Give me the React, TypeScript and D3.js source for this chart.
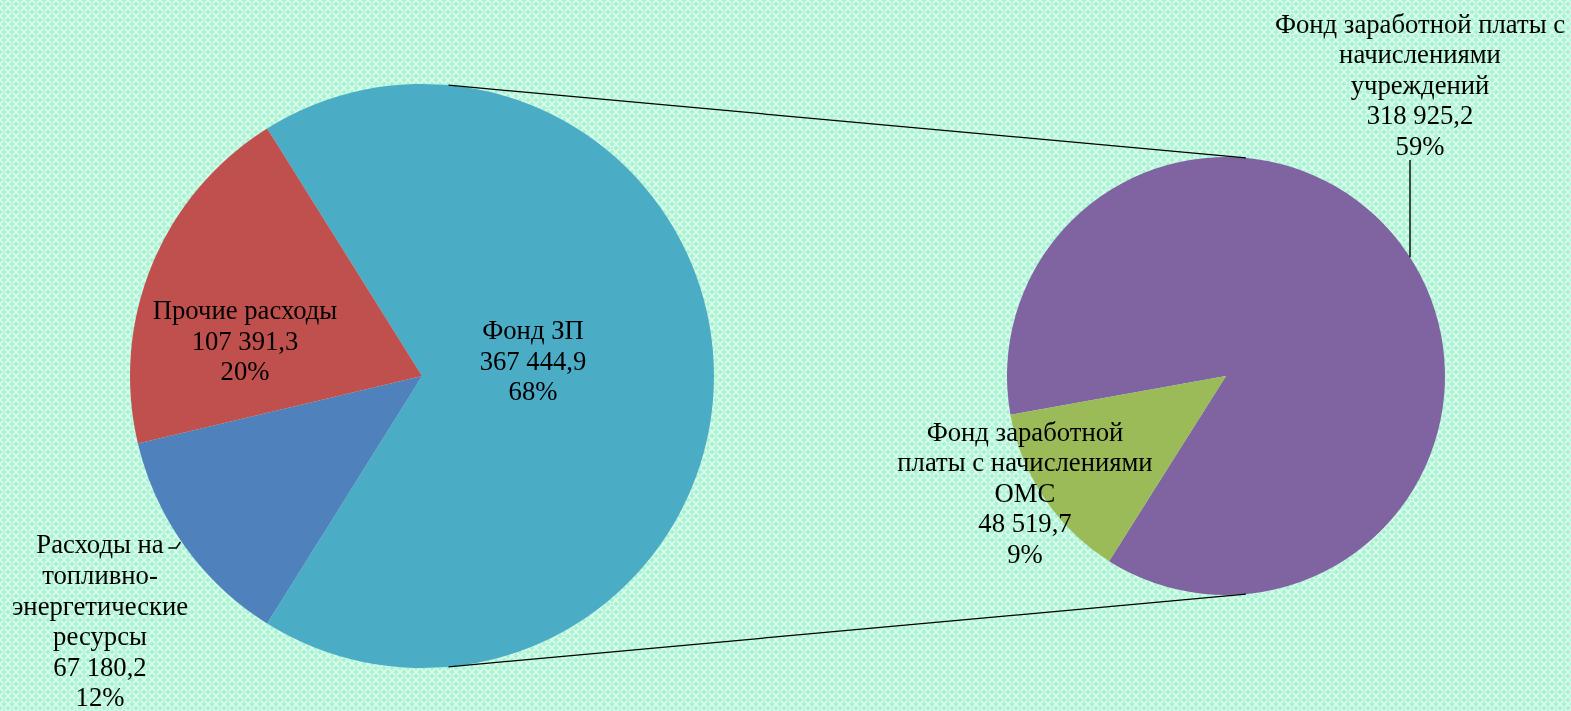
import React from "react";
import * as d3 from "d3";

// ---------- data ----------
const primaryNames = ["Фонд ЗП", "Расходы на топливно-энергетические ресурсы", "Прочие расходы"];
const primaryValues = [367444.9, 67180.2, 107391.3];
const secondaryNames = ["Фонд заработной платы с начислениями учреждений", "Фонд заработной платы с начислениями ОМС"];
const secondaryValues = [318925.2, 48519.7];
const primaryColors = ["#4BACC6", "#4F81BD", "#C0504D"];
const secondaryColors = ["#8064A2", "#9BBB59"];

// label line breaks (text as displayed)
const primaryLabelLines = [["Фонд ЗП"], ["Расходы на", "топливно-", "энергетические", "ресурсы"], ["Прочие расходы"]];
const secondaryLabelLines = [["Фонд заработной платы с", "начислениями", "учреждений"], ["Фонд заработной", "платы с начислениями", "ОМС"]];

// ---------- layout ----------
const W = 1571, H = 711;
const C1 = { x: 422, y: 376, r: 292 };
const C2 = { x: 1226, y: 376, r: 219 };
const secondaryStartDeg = 259.8;
const FONT = 26.7;
const LH = 30.6;
// label block centers (relative to pie centers)
const primaryLabelPos = [{ dx: 111, dy: -15 }, { dx: -322, dy: 245 }, { dx: -177, dy: -35 }];
const secondaryLabelPos = [{ dx: 194, dy: -291 }, { dx: -201, dy: 117 }];

const loc = d3.formatLocale({ decimal: ",", thousands: " ", grouping: [3], currency: ["", ""] });
const fmt = loc.format(",.1f");

function Label({ x, y, lines }: { x: number; y: number; lines: string[] }) {
  const n = lines.length;
  return (
    <text x={x} textAnchor="middle" fontFamily="'Liberation Serif', 'Times New Roman', serif" fontSize={FONT} fill="#000">
      {lines.map((l, i) => (
        <tspan key={i} x={x} y={y + (i - (n - 1) / 2) * LH + FONT * 0.33}>{l}</tspan>
      ))}
    </text>
  );
}

export default function App() {
  const total = d3.sum(primaryValues);
  const otherFrac = primaryValues[0] / total;
  const startA = Math.PI / 2 - otherFrac * Math.PI;

  const pie1 = d3.pie<number>().sort(null).startAngle(startA).endAngle(startA + 2 * Math.PI)(primaryValues);
  const s0 = (secondaryStartDeg * Math.PI) / 180;
  const pie2 = d3.pie<number>().sort(null).startAngle(s0).endAngle(s0 + 2 * Math.PI)(secondaryValues);

  const arc1 = d3.arc<d3.PieArcDatum<number>>().innerRadius(0).outerRadius(C1.r);
  const arc2 = d3.arc<d3.PieArcDatum<number>>().innerRadius(0).outerRadius(C2.r);

  // external tangent lines between the two circles
  const d = C2.x - C1.x;
  const th = Math.asin((C1.r - C2.r) / d);
  const tan = (sgn: number) => ({
    x1: C1.x + C1.r * Math.sin(th), y1: C1.y + sgn * C1.r * Math.cos(th),
    x2: C2.x + C2.r * Math.sin(th), y2: C2.y + sgn * C2.r * Math.cos(th),
  });
  const tTop = tan(-1), tBot = tan(1);

  const pct = (v: number) => Math.round((v / total) * 100) + "%";

  // leader line for secondary label 0
  const lx = C2.x + 184;
  const ly2 = C2.y - Math.sqrt(C2.r * C2.r - 184 * 184);

  // leader for primary label 1 (small hook)
  const hx = C1.x - Math.sqrt(C1.r * C1.r - 164 * 164);
  const hy = C1.y + 164;

  return (
    <svg width={W} height={H} style={{ position: "fixed", left: 0, top: 0 }}>
      <defs>
        <pattern id="bg" width={8} height={8} patternUnits="userSpaceOnUse">
          <rect width={8} height={8} fill="#a8f3d2" />
          <path d="M0,0 L8,8 M8,0 L0,8" stroke="#ffffff" strokeOpacity={0.6} strokeWidth={1.6} />
          <circle cx={4} cy={4} r={1.2} fill="#b8f7dc" />
        </pattern>
      </defs>
      <rect width={W} height={H} fill="url(#bg)" />

      <g transform={`translate(${C1.x},${C1.y})`}>
        {pie1.map((p, i) => (
          <path key={i} d={arc1(p) || ""} fill={primaryColors[i]} />
        ))}
      </g>
      <g transform={`translate(${C2.x},${C2.y})`}>
        {pie2.map((p, i) => (
          <path key={i} d={arc2(p) || ""} fill={secondaryColors[i]} />
        ))}
      </g>

      <line {...tTop} stroke="#000" strokeWidth={1.3} />
      <line {...tBot} stroke="#000" strokeWidth={1.3} />

      <line x1={lx} y1={160} x2={lx} y2={ly2} stroke="#000" strokeWidth={1.4} />
      <polyline points={`${hx - 12},${hy + 8} ${hx - 4},${hy + 8} ${hx},${hy + 2}`} fill="none" stroke="#000" strokeWidth={1.5} />

      {primaryValues.map((v, i) => (
        <Label key={i} x={C1.x + primaryLabelPos[i].dx} y={C1.y + primaryLabelPos[i].dy}
          lines={[...primaryLabelLines[i], fmt(v), pct(v)]} />
      ))}
      {secondaryValues.map((v, i) => (
        <Label key={i} x={C2.x + secondaryLabelPos[i].dx} y={C2.y + secondaryLabelPos[i].dy}
          lines={[...secondaryLabelLines[i], fmt(v), pct(v)]} />
      ))}
    </svg>
  );
}
